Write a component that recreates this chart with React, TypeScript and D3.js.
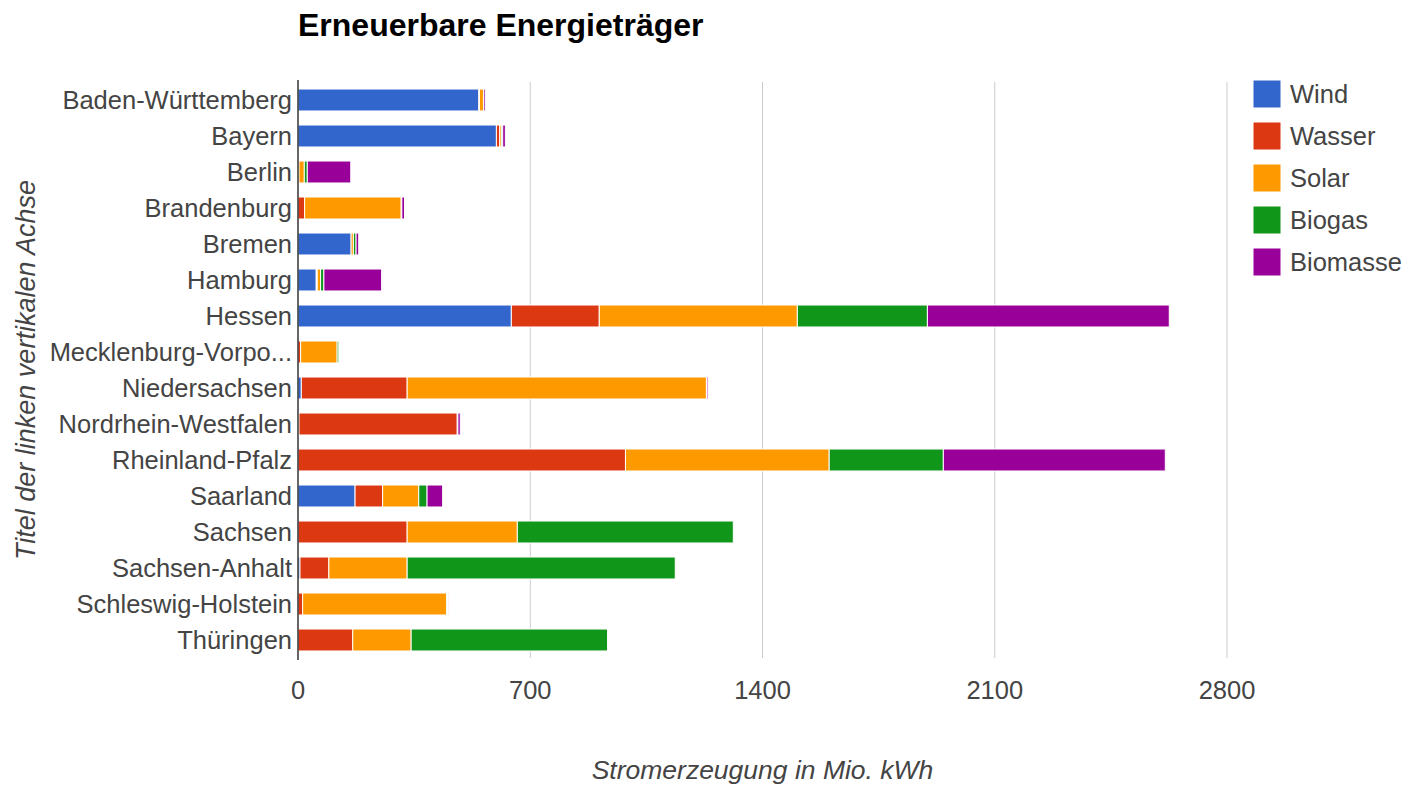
import React from "react";
import * as d3 from "d3";

const states = [
  "Baden-Württemberg",
  "Bayern",
  "Berlin",
  "Brandenburg",
  "Bremen",
  "Hamburg",
  "Hessen",
  "Mecklenburg-Vorpommern",
  "Niedersachsen",
  "Nordrhein-Westfalen",
  "Rheinland-Pfalz",
  "Saarland",
  "Sachsen",
  "Sachsen-Anhalt",
  "Schleswig-Holstein",
  "Thüringen",
];

const seriesNames = ["Wind", "Wasser", "Solar", "Biogas", "Biomasse"];
const seriesColors = ["#3366cc", "#dc3912", "#ff9900", "#109618", "#990099"];

const wind = [545, 598, 0, 0, 160, 55, 643, 0, 10, 3, 0, 172, 0, 6, 0, 0];
const wasser = [2, 10, 3, 20, 0, 3, 265, 8, 319, 477, 987, 83, 329, 87, 14, 165];
const solar = [12, 5, 16, 291, 7, 10, 597, 110, 902, 0, 614, 109, 332, 236, 434, 176];
const biogas = [0, 4, 9, 2, 8, 10, 392, 5, 2, 2, 344, 25, 651, 808, 2, 592];
const biomasse = [5, 8, 131, 8, 8, 174, 729, 0, 4, 7, 669, 47, 0, 0, 3, 0];

const xTicks = [0, 700, 1400, 2100, 2800];

const title = "Erneuerbare Energieträger";
const xTitle = "Stromerzeugung in Mio. kWh";
const yTitle = "Titel der linken vertikalen Achse";

const FONT = "'Liberation Sans', Arial, sans-serif";

export default function App() {
  const width = 1409;
  const height = 787;
  const left = 298;
  const right = 1227;
  const top = 82;
  const bottom = 658;

  const rows = states.map((s, i) => ({
    state: s,
    Wind: wind[i],
    Wasser: wasser[i],
    Solar: solar[i],
    Biogas: biogas[i],
    Biomasse: biomasse[i],
  }));

  const stacked = d3.stack<any>().keys(seriesNames)(rows);

  const x = d3.scaleLinear().domain([0, 2800]).range([left, right]);
  const y = d3
    .scaleBand<string>()
    .domain(states)
    .range([top, bottom])
    .paddingInner(0.39)
    .paddingOuter(0.195);

  const shortLabel = (s: string) => (s.length > 20 ? s.slice(0, 17) + "..." : s);

  return (
    <svg
      width={width}
      height={height}
      style={{ position: "absolute", left: 0, top: 0, background: "#fff" }}
      fontFamily={FONT}
    >
      <text x={left} y={36} fontSize={32} fontWeight="bold" fill="#000">
        {title}
      </text>

      {xTicks.map((t) => (
        <g key={t}>
          {t > 0 && (
            <line x1={x(t)} x2={x(t)} y1={top} y2={bottom} stroke="#cccccc" strokeWidth={1} />
          )}
          <text
            x={x(t)}
            y={699}
            fontSize={25.5}
            textAnchor="middle"
            fill="#444"
          >
            {t}
          </text>
        </g>
      ))}

      {stacked.map((layer, si) => (
        <g key={layer.key} fill={seriesColors[si]}>
          {layer.map((d, i) => {
            const w = x(d[1]) - x(d[0]);
            if (w <= 0) return null;
            return (
              <rect
                key={i}
                x={x(d[0])}
                y={y(states[i])}
                width={w}
                height={y.bandwidth()}
                stroke="#ffffff"
                strokeWidth={1}
              />
            );
          })}
        </g>
      ))}

      <line x1={left} x2={left} y1={top - 2} y2={bottom + 2} stroke="#333" strokeWidth={1.5} />

      {states.map((s) => (
        <text
          key={s}
          x={left - 6}
          y={(y(s) as number) + y.bandwidth() / 2}
          dy="0.35em"
          fontSize={25.5}
          textAnchor="end"
          fill="#444"
        >
          {shortLabel(s)}
        </text>
      ))}

      <text
        x={(left + right) / 2}
        y={779}
        fontSize={26.5}
        fontStyle="italic"
        textAnchor="middle"
        fill="#444"
      >
        {xTitle}
      </text>

      <text
        transform={`translate(35, ${(top + bottom) / 2}) rotate(-90)`}
        fontSize={27}
        fontStyle="italic"
        textAnchor="middle"
        fill="#444"
      >
        {yTitle}
      </text>

      {seriesNames.map((n, i) => (
        <g key={n} transform={`translate(1253, ${80 + i * 42})`}>
          <rect width={28} height={28} fill={seriesColors[i]} stroke="#fff" strokeWidth={1} />
          <text x={37} y={14} dy="0.35em" fontSize={25.5} fill="#444">
            {n}
          </text>
        </g>
      ))}
    </svg>
  );
}
